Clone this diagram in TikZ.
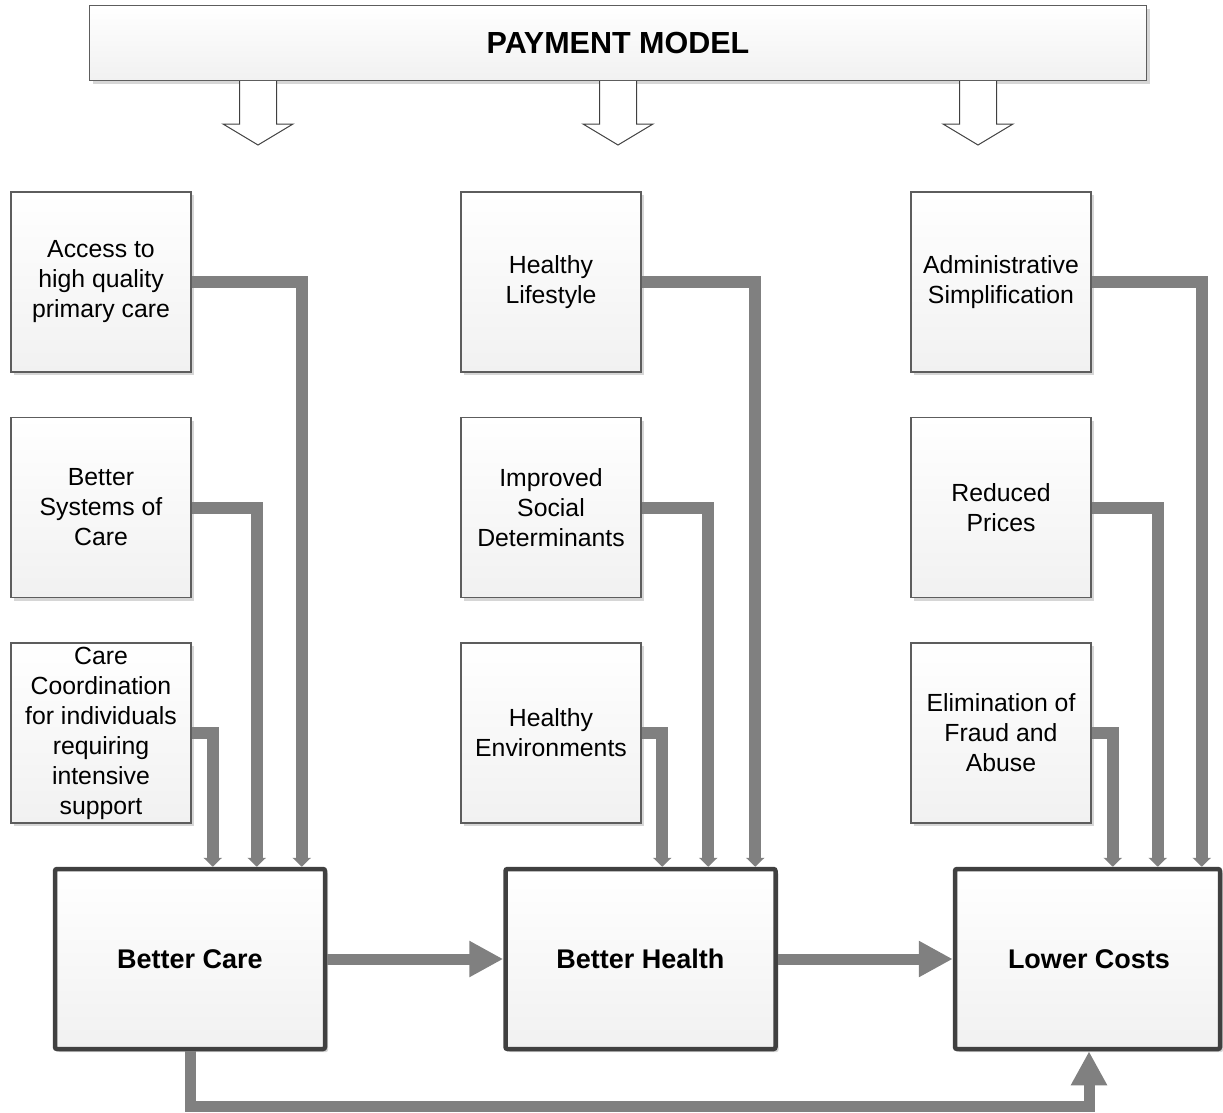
\documentclass[tikz,border=0pt]{standalone}
\usepackage{fontspec}
\setmainfont{Liberation Sans}
\usetikzlibrary{arrows.meta,shadows}
\definecolor{feedgray}{RGB}{128,128,128}
\definecolor{rimgray}{RGB}{64,64,64}
\begin{document}
\begin{tikzpicture}[x=1pt,y=-1pt,
    box/.style={draw=rimgray!85,line width=1.2pt,top color=white,bottom color=gray!11,
      drop shadow={shadow xshift=3pt,shadow yshift=-3pt,fill=black!16,opacity=1},
      minimum width=180pt,minimum height=180pt,inner sep=0pt,align=center,
      font=\fontsize{24.8}{30}\selectfont},
    goal/.style={box,draw=rimgray,line width=4.5pt,rounded corners=2pt,
      minimum width=270pt,minimum height=180pt,font=\fontsize{27}{32}\selectfont\bfseries},
    feed/.style={draw=feedgray,line width=12pt,-{Triangle[length=9pt,width=18pt]}},
    flow/.style={draw=feedgray,line width=11pt,-{Triangle[length=34pt,width=34pt]}},
    hollow/.style={draw=rimgray,line width=1pt,fill=white}]
  \useasboundingbox (0,0) rectangle (1223,1112);
  \node[box,minimum width=1057pt,minimum height=75pt,
    font=\fontsize{30.5}{34}\selectfont\bfseries] (pm) at (618,43) {PAYMENT MODEL};
  \foreach \x in {258,618,978}
    \draw[hollow] (\x-18.5,81) -- (\x-18.5,124) -- (\x-35,124) -- (\x,145)
      -- (\x+35,124) -- (\x+18.5,124) -- (\x+18.5,81);
  \draw
    (101,282) node[box] (acc){Access to\\high quality\\primary care}
    (101,507.5) node[box] (sys){Better\\Systems of\\Care}
    (101,733) node[box] (coord){Care\\Coordination\\for individuals\\requiring\\intensive\\support}
    (551,282) node[box] (life){Healthy\\Lifestyle}
    (551,507.5) node[box] (soc){Improved\\Social\\Determinants}
    (551,733) node[box] (env){Healthy\\Environments}
    (1001,282) node[box] (adm){Administrative\\Simplification}
    (1001,507.5) node[box] (price){Reduced\\Prices}
    (1001,733) node[box] (fraud){Elimination of\\Fraud and\\Abuse}
    (190,959) node[goal] (bc){Better Care}
    (640.5,959) node[goal] (bh){Better Health}
    (1087.5,959) node[goal,minimum width=265pt] (lc){\hspace*{3pt}Lower Costs};
  \begin{scope}
    \draw[feed] (acc.east) -| ([xshift=249pt]bc.north west);
    \draw[feed] (sys.east) -| ([xshift=204pt]bc.north west);
    \draw[feed] (coord.east) -| ([xshift=160pt]bc.north west);
    \draw[feed] (life.east) -| ([xshift=252pt]bh.north west);
    \draw[feed] (soc.east) -| ([xshift=205pt]bh.north west);
    \draw[feed] (env.east) -| ([xshift=159pt]bh.north west);
    \draw[feed] (adm.east) -| ([xshift=249pt]lc.north west);
    \draw[feed] (price.east) -| ([xshift=205pt]lc.north west);
    \draw[feed] (fraud.east) -| ([xshift=160pt]lc.north west);
    \draw[flow] (bc.east) -- (bh.west);
    \draw[flow] (bh.east) -- (lc.west);
    \draw[flow] ([xshift=0.5pt]bc.south) -- ++(0,55.5) -| ([xshift=1.5pt]lc.south);
  \end{scope}
\end{tikzpicture}
\end{document}
